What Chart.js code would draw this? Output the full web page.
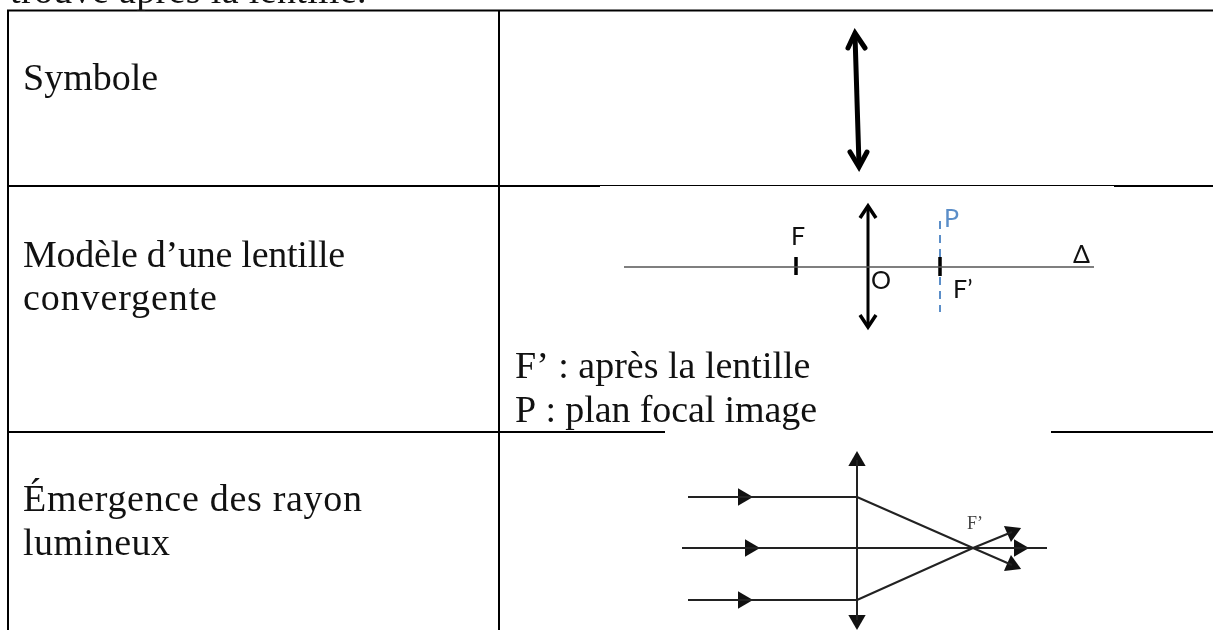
<!DOCTYPE html>
<html>
<head>
<meta charset="utf-8">
<script src="https://cdn.jsdelivr.net/npm/chart.js@4/dist/chart.umd.min.js"></script>
<style>
  html, body { margin: 0; padding: 0; background: #fff; overflow: hidden; }
  #wrap { width: 1213px; height: 630px; }
</style>
</head>
<body>
<div id="wrap"><canvas id="chart"></canvas></div>
<script>
// table rules, [x, y] pairs
const tableRules = [
  [[7, 10.5], [1213, 10.5]],
  [[8, 10], [8, 630]],
  [[499, 10], [499, 630]],
  [[8, 186], [600, 186]],
  [[1114, 186], [1213, 186]],
  [[8, 432], [665, 432]],
  [[1051, 432], [1213, 432]]
];
const faintRule = [[600, 185.5], [1114, 185.5]];

// symbol row
const symbolArrow = [[855, 35], [859, 165]];
const symbolHeads = [
  [[848, 48], [855, 33], [865, 48]],
  [[850, 152], [859, 167], [867, 152]]
];

// lens model row
const axisLine = [[624, 267], [1094, 267]];
const lensLine = [[868, 206], [868, 327]];
const lensHeads = [
  [[860, 218], [868, 206], [876, 218]],
  [[860, 315], [868, 327], [876, 315]]
];
const focusTicks = [
  [[796, 257], [796, 275]],
  [[940, 257], [940, 276]]
];
const focalPlane = [[940, 221], [940, 312]];

// emergence row
const lens2Line = [[857, 460], [857, 620]];
const parallelRays = [
  [[688, 497], [857, 497]],
  [[682, 548], [1047, 548]],
  [[688, 600], [857, 600]]
];
const refractedRays = [
  [[857, 497], [973, 548], [1012, 565]],
  [[857, 600], [973, 548], [1012, 532]]
];
const triX = [857, 857, 743, 743, 750, 1019, 1012, 1012];
const triY = [461, 620, 497, 600, 548, 548, 532, 565];
const triAngle = [0, 180, 90, 90, 90, 90, 66, 114];

// text
const bodyTexts = ['trouve après la lentille.', 'Symbole', 'Modèle d’une lentille', 'convergente', 'F’ : après la lentille', 'P : plan focal image', 'Émergence des rayon', 'lumineux'];
const bodyX = [10, 23, 23, 23, 515, 515, 23, 23];
const bodyY = [3, 90, 267, 310, 378, 422, 511, 555];
const bodySpacing = [0.35, 0, -0.25, 0.9, 0, -0.1, 0.7, 0.5];
const diagramTexts = ['F', 'O', 'P', 'F’', 'Δ'];
const diagramX = [791, 871, 944, 953, 1073];
const diagramY = [245, 289, 227, 298, 263];
const diagramColors = ['#111', '#111', '#5b8ec8', '#111', '#111'];

function line(points, color, width, extra) {
  return Object.assign({
    data: points.map(p => ({ x: p[0], y: p[1] })),
    showLine: true, borderColor: color, borderWidth: width,
    pointRadius: 0, pointHoverRadius: 0, tension: 0, fill: false
  }, extra || {});
}

const datasets = [];
tableRules.forEach(r => datasets.push(line(r, '#000', 2)));
datasets.push(line(faintRule, '#000', 1));
datasets.push(line(symbolArrow, '#000', 5));
symbolHeads.forEach(h => datasets.push(line(h, '#000', 5, { borderCapStyle: 'round', borderJoinStyle: 'miter' })));
datasets.push(line(axisLine, '#555', 1.5));
datasets.push(line(lensLine, '#000', 3));
lensHeads.forEach(h => datasets.push(line(h, '#000', 3.5)));
focusTicks.forEach(t => datasets.push(line(t, '#000', 3.5)));
datasets.push(line(focalPlane, '#5b8ec8', 2, { borderDash: [8, 6] }));
datasets.push(line(lens2Line, '#222', 2));
parallelRays.forEach(r => datasets.push(line(r, '#222', 2)));
refractedRays.forEach(r => datasets.push(line(r, '#222', 2)));
datasets.push({
  data: triX.map((x, i) => ({ x: x, y: triY[i] })),
  pointStyle: 'triangle', pointRadius: 10, pointRotation: triAngle,
  backgroundColor: '#111', borderColor: '#111', borderWidth: 0, showLine: false
});

// draws the labels at data positions through the chart's own scales
const textPlugin = {
  id: 'textPlugin',
  afterDatasetsDraw(chart) {
    const { ctx, scales } = chart;
    ctx.save();
    ctx.textBaseline = 'alphabetic';
    ctx.fillStyle = '#111';
    ctx.font = '38px "Liberation Serif"';
    bodyTexts.forEach((t, i) => {
      ctx.letterSpacing = bodySpacing[i] + 'px';
      ctx.fillText(t, scales.x.getPixelForValue(bodyX[i]), scales.y.getPixelForValue(bodyY[i]));
    });
    ctx.letterSpacing = '0px';
    ctx.font = '25px Lato';
    diagramTexts.forEach((t, i) => {
      ctx.fillStyle = diagramColors[i];
      ctx.fillText(t, scales.x.getPixelForValue(diagramX[i]), scales.y.getPixelForValue(diagramY[i]));
    });
    ctx.fillStyle = '#444';
    ctx.font = '18px "Liberation Serif"';
    ctx.fillText('F’', scales.x.getPixelForValue(967), scales.y.getPixelForValue(529));
    ctx.restore();
  }
};

new Chart(document.getElementById('chart'), {
  type: 'scatter',
  data: { datasets },
  options: {
    responsive: true, maintainAspectRatio: false, animation: false,
    layout: { padding: 0, autoPadding: false },
    plugins: { legend: { display: false }, tooltip: { enabled: false } },
    scales: {
      x: { type: 'linear', min: 0, max: 1213, display: false },
      y: { type: 'linear', min: 0, max: 630, reverse: true, display: false }
    }
  },
  plugins: [textPlugin]
});
</script>
</body>
</html>
